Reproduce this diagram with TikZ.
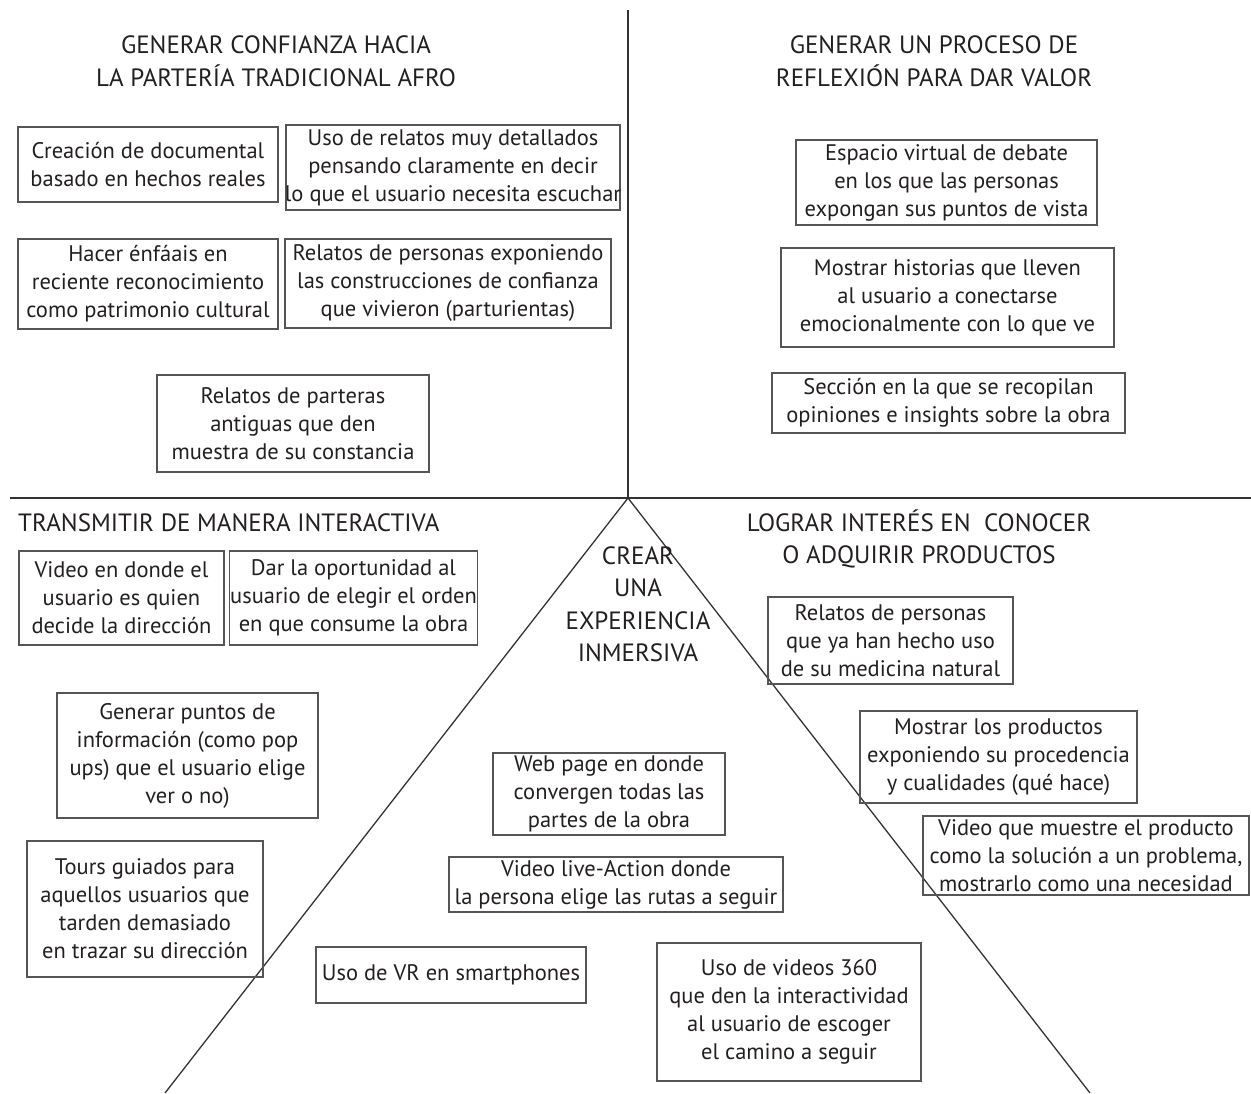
\documentclass[tikz,border=0pt]{standalone}
\usepackage{fontspec}
\setmainfont{PT Sans}
\definecolor{inkgray}{HTML}{231F20}
\definecolor{framegray}{HTML}{555555}
\definecolor{axisgray}{HTML}{333333}
\tikzset{
  box/.style={draw=framegray, line width=1.3pt, align=center, inner sep=1pt,
    text=inkgray, font=\fontsize{22.5}{28}\selectfont},
  heading/.style={align=center, inner sep=0pt, text=inkgray,
    font=\fontsize{25}{32.5}\selectfont},
  divider/.style={draw=axisgray, line width=1.3pt}
}
\begin{document}
\begin{tikzpicture}[x=1pt,y=1pt,yscale=-1]
\useasboundingbox (0,0) rectangle (1251,1093);

% dividing lines
\coordinate (top) at (628,10);
\coordinate (apex) at (628,498);
\coordinate (west) at (10,498);
\coordinate (east) at (1251,498);
\coordinate (footl) at (165,1093);
\coordinate (footr) at (1090,1093);
\draw[divider] (top) -- (apex);
\draw[divider] (west) -- (east);
\draw[divider] (footl) -- (apex) -- (footr);

% headings
\node[heading] (confianza) at (276,61) {GENERAR CONFIANZA HACIA\\LA PARTERÍA TRADICIONAL AFRO};
\node[heading] (reflexion) at (934,61) {GENERAR UN PROCESO DE\\REFLEXIÓN PARA DAR VALOR};
\node[heading, anchor=west] (interactiva) at (18,523) {TRANSMITIR DE MANERA INTERACTIVA};
\node[heading] (interes) at (919,539) {LOGRAR INTERÉS EN\ \ CONOCER\\O ADQUIRIR PRODUCTOS};
\node[heading] (inmersiva) at (638,604) {CREAR\\UNA\\EXPERIENCIA\\INMERSIVA};

% top left
\node[box, minimum width=260, minimum height=75] (documental) at (148,164.5) {Creación de documental\\basado en hechos reales};
\node[box, inner xsep=-3pt, minimum width=334, minimum height=85] (detallados) at (453,167.5) {Uso de relatos muy detallados\\pensando claramente en decir\\lo que el usuario necesita escuchar};
\node[box, minimum width=260, minimum height=90] (enfasis) at (148,284) {Hacer énfáais en\\reciente reconocimiento\\como patrimonio cultural};
\node[box, minimum width=326, minimum height=89] (construcciones) at (448,283.5) {Relatos de personas exponiendo\\las construcciones de confianza\\que vivieron (parturientas)};
\node[box, minimum width=272, minimum height=97] (parteras) at (293,423.5) {Relatos de parteras\\antiguas que den\\muestra de su constancia};

% top right
\node[box, minimum width=301, minimum height=85] (debate) at (946.5,182.5) {Espacio virtual de debate\\en los que las personas\\expongan sus puntos de vista};
\node[box, minimum width=333, minimum height=99] (historias) at (947.5,297.5) {Mostrar historias que lleven\\al usuario a conectarse\\emocionalmente con lo que ve};
\node[box, minimum width=353, minimum height=60] (opiniones) at (948.5,403) {Sección en la que se recopilan\\opiniones e insights sobre la obra};

% bottom left
\node[box, minimum width=205, minimum height=94] (direccion) at (121.5,598) {Video en donde el\\usuario es quien\\decide la dirección};
\node[box, minimum width=247, minimum height=94] (orden) at (353.5,598) {Dar la oportunidad al\\usuario de elegir el orden\\en que consume la obra};
\node[box, minimum width=261, minimum height=125] (popups) at (187.5,755.5) {Generar puntos de\\información (como pop\\ups) que el usuario elige\\ver o no)};
\node[box, minimum width=236, minimum height=136] (tours) at (145,909) {Tours guiados para\\aquellos usuarios que\\tarden demasiado\\en trazar su dirección};

% centre
\node[box, minimum width=232, minimum height=82] (webpage) at (609,794) {Web page en donde\\convergen todas las\\partes de la obra};
\node[box, minimum width=334, minimum height=55] (liveaction) at (616,884.5) {Video live-Action donde\\la persona elige las rutas a seguir};
\node[box, minimum width=270, minimum height=56] (vr) at (451,975) {Uso de VR en smartphones};
\node[box, minimum width=264, minimum height=138] (videos) at (789,1012) {Uso de videos 360\\que den la interactividad\\al usuario de escoger\\el camino a seguir};

% bottom right
\node[box, minimum width=245, minimum height=87] (medicina) at (890.5,640.5) {Relatos de personas\\que ya han hecho uso\\de su medicina natural};
\node[box, minimum width=277, minimum height=92] (productos) at (998.5,757) {Mostrar los productos\\exponiendo su procedencia\\y cualidades (qué hace)};
\node[box, inner xsep=-1pt, minimum width=326, minimum height=79] (necesidad) at (1086,855.5) {Video que muestre el producto\\como la solución a un problema,\\mostrarlo como una necesidad};
\end{tikzpicture}
\end{document}
